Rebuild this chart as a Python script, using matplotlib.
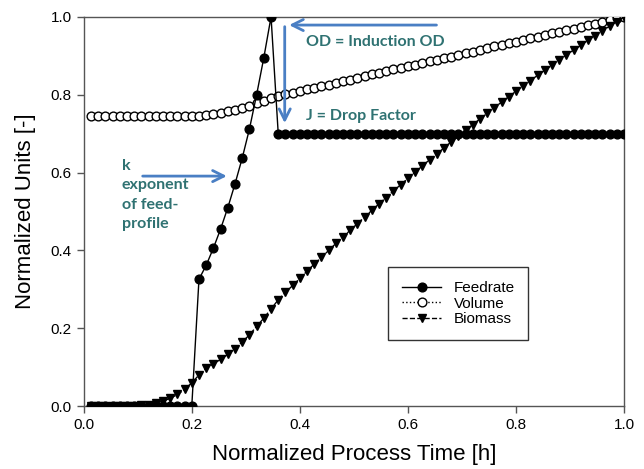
import numpy as np
import matplotlib
matplotlib.use("Agg")
import matplotlib.pyplot as plt

# normalized time grid (1/75 steps)
t = [0.0133, 0.0267, 0.0400, 0.0533, 0.0667, 0.0800, 0.0933, 0.1067, 0.1200, 0.1333,
     0.1467, 0.1600, 0.1733, 0.1867, 0.2000, 0.2133, 0.2267, 0.2400, 0.2533, 0.2667,
     0.2800, 0.2933, 0.3067, 0.3200, 0.3333, 0.3467, 0.3600, 0.3733, 0.3867, 0.4000,
     0.4133, 0.4267, 0.4400, 0.4533, 0.4667, 0.4800, 0.4933, 0.5067, 0.5200, 0.5333,
     0.5467, 0.5600, 0.5733, 0.5867, 0.6000, 0.6133, 0.6267, 0.6400, 0.6533, 0.6667,
     0.6800, 0.6933, 0.7067, 0.7200, 0.7333, 0.7467, 0.7600, 0.7733, 0.7867, 0.8000,
     0.8133, 0.8267, 0.8400, 0.8533, 0.8667, 0.8800, 0.8933, 0.9067, 0.9200, 0.9333,
     0.9467, 0.9600, 0.9733, 0.9867, 1.0000]

feedrate = [0.0] * 15 + [0.326, 0.362, 0.406, 0.455, 0.510, 0.571, 0.637, 0.712, 0.800,
                         0.895, 1.000] + [0.7] * 49

volume = [0.745] * 15 + [0.746, 0.748, 0.751, 0.754, 0.758, 0.762, 0.767, 0.772, 0.778,
                         0.784, 0.791,
                         0.797, 0.801, 0.805, 0.810, 0.814, 0.818, 0.822, 0.826, 0.831,
                         0.835, 0.839, 0.843, 0.848, 0.852, 0.856, 0.860, 0.865, 0.869,
                         0.873, 0.877, 0.881, 0.886, 0.890, 0.894, 0.898, 0.903, 0.907,
                         0.911, 0.915, 0.919, 0.924, 0.928, 0.932, 0.936, 0.941, 0.945,
                         0.949, 0.953, 0.958, 0.962, 0.966, 0.970, 0.975, 0.979, 0.983,
                         0.987, 0.991, 0.996, 1.000]

biomass = [0.0] * 7 + [0.002, 0.004, 0.008, 0.013, 0.020, 0.030, 0.043, 0.060,
                       0.080, 0.097, 0.109, 0.120, 0.133, 0.148, 0.165, 0.183, 0.205,
                       0.226, 0.250,
                       0.273, 0.292, 0.310, 0.328, 0.347, 0.365, 0.382, 0.400, 0.418,
                       0.435, 0.452, 0.469, 0.486, 0.503, 0.520, 0.536, 0.553, 0.569,
                       0.585, 0.601, 0.617, 0.633, 0.648, 0.663, 0.679, 0.694, 0.709,
                       0.723, 0.738, 0.752, 0.767, 0.781, 0.795, 0.809, 0.823, 0.836,
                       0.850, 0.863, 0.876, 0.889, 0.902, 0.915, 0.927, 0.940, 0.952,
                       0.964, 0.976, 0.988, 1.000]

ticks = [0.0, 0.2, 0.4, 0.6, 0.8, 1.0]
tick_labels = ["0.0", "0.2", "0.4", "0.6", "0.8", "1.0"]

note_color = "#2f7272"
arrow_color = "#4a7fc4"

plt.rcParams['font.family'] = ['Liberation Sans', 'DejaVu Sans']

fig = plt.figure(figsize=(6.44, 4.69), dpi=100)
ax = fig.add_axes([0.130, 0.134, 0.839, 0.830])

ax.plot(t, volume, ls=':', color='black', lw=1, marker='o', ms=6.3,
        mfc='white', mec='black', mew=1.0, label='Volume', zorder=3)
ax.plot(t, biomass, ls='--', color='black', lw=1, marker='v', ms=6.3,
        mfc='black', mec='black', label='Biomass', zorder=4)
ax.plot(t, feedrate, ls='-', color='black', lw=1, marker='o', ms=6.3,
        mfc='black', mec='black', label='Feedrate', zorder=5)

ax.set_xlim(0, 1)
ax.set_ylim(0, 1)
ax.set_xticks(ticks)
ax.set_xticklabels(tick_labels)
ax.set_yticks(ticks)
ax.set_yticklabels(tick_labels)
ax.tick_params(direction='out', length=5, width=1, labelsize=11, color='#555555')
for s in ax.spines.values():
    s.set_color('#555555')
    s.set_linewidth(1)

ax.set_xlabel('Normalized Process Time [h]', fontsize=16, labelpad=9)
ax.set_ylabel('Normalized Units [-]', fontsize=16, labelpad=11)

# legend in Feedrate / Volume / Biomass order
h, l = ax.get_legend_handles_labels()
order = [2, 0, 1]
leg = ax.legend([h[i] for i in order], [l[i] for i in order], loc='lower left',
                bbox_to_anchor=(0.563, 0.17), borderaxespad=0, fontsize=11,
                frameon=True, fancybox=False, edgecolor='black', handlelength=2.6,
                borderpad=0.9, labelspacing=0.1, handletextpad=0.8)
leg.get_frame().set_linewidth(1)

# annotations
bold = dict(fontsize=11.5, fontweight='bold', color=note_color, family='Lato')
ax.text(0.412, 0.935, 'OD = Induction OD', va='center', **bold)
ax.text(0.412, 0.745, 'J = Drop Factor', va='center', **bold)
ax.text(0.07, 0.635, 'k\nexponent\nof feed-\nprofile', va='top', linespacing=1.48, **bold)

akw = dict(arrowstyle='->', color=arrow_color, lw=2, mutation_scale=20)
ax.annotate('', xy=(0.375, 0.979), xytext=(0.658, 0.979), arrowprops=akw)
ax.annotate('', xy=(0.372, 0.72), xytext=(0.372, 0.982), arrowprops=akw)
ax.annotate('', xy=(0.27, 0.591), xytext=(0.104, 0.591), arrowprops=akw)

fig.savefig('out.png', dpi=100)
plt.close(fig)
